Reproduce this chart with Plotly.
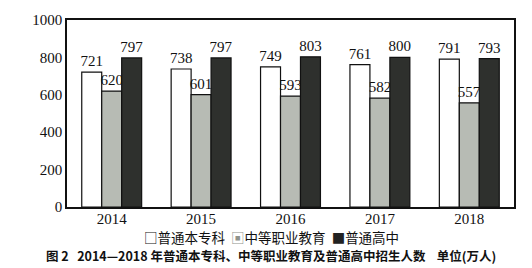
import plotly.graph_objects as go

years = ["2014", "2015", "2016", "2017", "2018"]
series_names = ["普通本专科", "中等职业教育", "普通高中"]
undergrad = [721, 738, 749, 761, 791]
vocational = [620, 601, 593, 582, 557]
highschool = [797, 797, 803, 800, 793]

fills = ["#ffffff", "#b7bbb4", "#2e302d"]
serif = "Liberation Serif, Times New Roman, serif"
cjk = "Noto Sans CJK SC"

fig = go.Figure()
for name, vals, col in zip(series_names, [undergrad, vocational, highschool], fills):
    fig.add_trace(go.Bar(
        x=years, y=vals, name=name,
        marker=dict(color=col, line=dict(color="#111111", width=1.2)),
        text=[str(v) for v in vals], textposition="outside",
        textfont=dict(family=serif, size=15, color="#111111"),
        constraintext="none", cliponaxis=False,
    ))

fig.update_layout(
    width=532, height=268,
    margin=dict(l=67, r=18, t=13, b=61),
    paper_bgcolor="white", plot_bgcolor="white",
    barmode="group", bargap=0.33, bargroupgap=0,
    showlegend=False,
    xaxis=dict(showline=True, linecolor="#111111", linewidth=1.5, mirror=True,
               ticks="", ticklabelstandoff=-3,
               tickfont=dict(family=serif, size=15, color="#111111")),
    yaxis=dict(range=[0, 1000], dtick=200, showgrid=False, zeroline=False,
               showline=True, linecolor="#111111", linewidth=1.5, mirror=True,
               ticks="", ticklen=0, tickfont=dict(family=serif, size=15, color="#111111")),
)

legend_text = (
    "<span style='color:#111'>□</span>普通本专科&nbsp;&nbsp;"
    "<span style='color:#8f938c'>▣</span>中等职业教育&nbsp;&nbsp;"
    "<span style='color:#222'>■</span>普通高中"
)
fig.add_annotation(text=legend_text, xref="paper", yref="paper", x=0.457, y=-0.158,
                   xanchor="center", yanchor="middle", showarrow=False, borderpad=0,
                   font=dict(family=cjk, size=13.5, color="#111111"))
fig.add_annotation(text="<b>图 2&nbsp;&nbsp;&nbsp;2014—2018 年普通本专科、中等职业教育及普通高中招生人数&nbsp;&nbsp;&nbsp;&nbsp;单位(万人)</b>",
                   xref="paper", yref="paper", x=0.457, y=-0.262,
                   xanchor="center", yanchor="middle", showarrow=False, borderpad=0,
                   font=dict(family=cjk, size=12.5, color="#111111"))

fig.write_html("out.html")
